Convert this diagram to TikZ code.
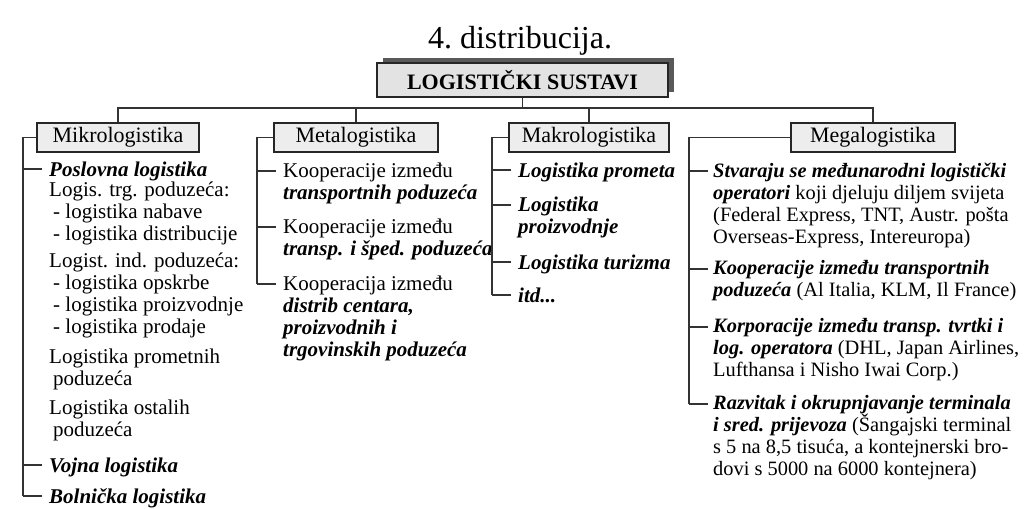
\documentclass[tikz,border=0pt]{standalone}
\usepackage{fontspec}
\setmainfont{Liberation Serif}
\usetikzlibrary{calc,shadows}
\newcommand{\bi}[1]{\textbf{\textit{#1}}}

\begin{document}
\begin{tikzpicture}[x=1pt,y=-1pt,
  crta/.style={line width=1.2pt,draw=black!80},
  glavni/.style={draw=black!85,line width=1.2pt,fill=gray!22,minimum width=291pt,minimum height=34pt,inner sep=0pt,
    font=\fontsize{22}{24}\selectfont\bfseries,
    drop shadow={shadow xshift=6pt,shadow yshift=5pt,fill=black!65,opacity=1}},
  grana/.style={draw=black!85,line width=1.2pt,fill=gray!14,minimum height=29pt,inner sep=0pt,font=\fontsize{22}{24}\selectfont},
  stavka/.style={anchor=north west,inner sep=0pt,align=left,font=\fontsize{21}{22}\selectfont,execute at begin node=\strut},
  sitno/.style={font=\fontsize{20.4}{22}\selectfont}]

  \useasboundingbox[fill=white] (0,0) rectangle (1024,508);

  \node[anchor=base,font=\fontsize{32}{34}\selectfont] (naslov) at (520,49) {4.\ distribucija.};
  \node[glavni] (sustavi) at (522.5,80) {LOGISTIČKI SUSTAVI};

  \node[grana,minimum width=162pt] (mikro) at (118,137.5) {Mikrologistika};
  \node[grana,minimum width=164pt] (meta) at (356,137.5) {Metalogistika};
  \node[grana,minimum width=160pt] (makro) at (589,137.5) {Makrologistika};
  \node[grana,minimum width=164pt] (mega) at (873,137.5) {Megalogistika};

  % sabirnica
  \coordinate (bus) at (0,108);
  \draw[crta] (mikro.north) |- (bus -| mega.north) -- (mega.north);
  \foreach \n in {sustavi.south,meta.north,makro.north}
    \draw[crta] (\n) -- (bus -| \n);

  % mikrologistika
  \node[stavka] (posl) at (49,160.6) {\bi{Poslovna logistika}};
  \node[stavka] (trg) at (49,181.6) {Logis. trg. poduzeća:\\\hspace*{4pt}- logistika nabave\\\hspace*{4pt}- logistika distribucije};
  \node[stavka] (ind) at (49,252.6) {Logist. ind. poduzeća:\\\hspace*{4pt}- logistika opskrbe\\\hspace*{4pt}- logistika proizvodnje\\\hspace*{4pt}- logistika prodaje};
  \node[stavka] (prom) at (49,348.6) {Logistika prometnih\\\hspace*{4pt}poduzeća};
  \node[stavka] (ost) at (49,399.6) {Logistika ostalih\\\hspace*{4pt}poduzeća};
  \node[stavka] (vojna) at (49,456.6) {\bi{Vojna logistika}};
  \node[stavka] (boln) at (49,487.6) {\bi{Bolnička logistika}};

  % metalogistika
  \node[stavka] (k1) at (283,162.6) {Kooperacije između\\\bi{transportnih poduzeća}};
  \node[stavka] (k2) at (283,218.6) {Kooperacije između\\\bi{transp. i šped. poduzeća}};
  \node[stavka] (k3) at (283,275.6) {Kooperacija između\\\bi{distrib centara,}\\\bi{proizvodnih i}\\\bi{trgovinskih poduzeća}};

  % makrologistika
  \node[stavka] (prometa) at (518,161.6) {\bi{Logistika prometa}};
  \node[stavka] (proizv) at (518,196.6) {\bi{Logistika}\\\bi{proizvodnje}};
  \node[stavka] (turizma) at (518,253.6) {\bi{Logistika turizma}};
  \node[stavka] (itd) at (518,286.6) {\bi{itd...}};

  % megalogistika
  \node[stavka,sitno] (m1) at (713,162.6) {\bi{Stvaraju se međunarodni logistički}\\\bi{operatori} koji djeluju diljem svijeta\\(Federal Express, TNT, Austr. pošta\\Overseas-Express, Intereuropa)};
  \node[stavka,sitno] (m2) at (713,260.6) {\bi{Kooperacije između transportnih}\\\bi{poduzeća} (Al Italia, KLM, Il France)};
  \node[stavka,sitno] (m3) at (713,318.6) {\bi{Korporacije između transp. tvrtki i}\\\bi{log. operatora} (DHL, Japan Airlines,\\Lufthansa i Nisho Iwai Corp.)};
  \node[stavka,sitno] (m4) at (713,395.6) {\bi{Razvitak i okrupnjavanje terminala}\\\bi{i sred. prijevoza} (Šangajski terminal\\s 5 na 8,5 tisuća, a kontejnerski bro-\\dovi s 5000 na 6000 kontejnera)};

  % zagrade
  \draw[crta] (mikro.west) -| ([shift={(-26pt,-8.4pt)}]boln.north west);
  \draw[crta] (meta.west) -| ([shift={(-26pt,-8.4pt)}]k3.north west);
  \draw[crta] (makro.west) -| ([shift={(-26pt,-8.4pt)}]itd.north west);
  \draw[crta] (mega.west) -| ([shift={(-24pt,-8.4pt)}]m4.north west);
  \foreach \n in {posl,vojna,boln,k1,k2,k3,prometa,proizv,turizma,itd}
    \draw[crta] ([shift={(-7pt,-8.4pt)}]\n.north west) -- ++(-19,0);
  \foreach \n in {m1,m2,m3,m4}
    \draw[crta] ([shift={(-5pt,-8.4pt)}]\n.north west) -- ++(-19,0);
\end{tikzpicture}
\end{document}
